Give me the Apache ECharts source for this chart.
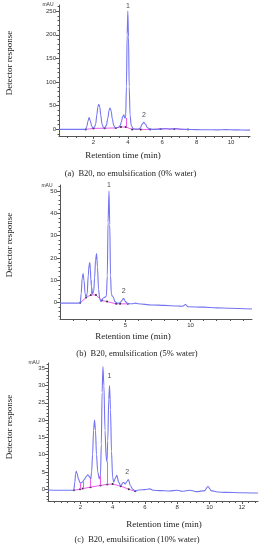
<!DOCTYPE html>
<html><head><meta charset="utf-8">
<script src="https://cdn.jsdelivr.net/npm/echarts@6/dist/echarts.min.js"></script>
<style>html,body{margin:0;padding:0;background:#fff}#c{width:263px;height:550px}</style>
</head><body><div id="c"></div>
<script>
// ---------- Panel (a): B20, no emulsification (0% water) ----------
const timeA = [0,0.5,1.0,1.5,1.55,1.62,1.68,1.75,1.82,1.9,1.97,2.05,2.13,2.2,2.26,2.31,2.37,2.43,2.5,2.58,2.65,2.75,2.84,2.91,2.97,3.03,3.1,3.18,3.28,3.38,3.47,3.55,3.63,3.7,3.77,3.82,3.87,3.92,3.96,4.0,4.04,4.08,4.13,4.2,4.3,4.45,4.6,4.72,4.83,4.93,5.03,5.13,5.25,5.45,5.7,5.9,6.05,6.2,6.4,6.6,6.8,7.0,7.4,8.0,8.6,9.2,9.7,10.2,10.6,11.1];
const respA = [0,0,0,0,0.5,6,17,25,18,7,2.5,4,11,31,48,53,47,30,11,4,3,8,24,41,45,39,22,8,3.5,3.5,5,8,16,27,31,24,24,90,200,250,195,90,30,8,2,0.5,0.5,3,11,15,11,4,1,0,0,1,1,2,0.5,1,2,0.5,0,-0.5,-0.8,-1,-0.6,-1.1,-1.2,-1.5];
const baseTA = [1.55,2.0,2.65,3.3,3.6,3.88,4.25,4.75,5.3,5.9,6.7,7.5];
const baseVA = [0,2,2.5,3,5,5,0,0,-0.3,1,1,-0.5];
const dropTA = [3.88];
const dropLowA = [5];
const dropTopA = [24];
const peakNameA = ['1','2'];
const peakTA = [4.0,4.93];
const peakVA = [251,21];
const xLabelsA = [2,4,6,8,10];
const yLabelsA = [0,50,100,150,200,250];

// ---------- Panel (b): B20, emulsification (5% water) ----------
const timeB = [0,0.5,1.0,1.5,1.55,1.62,1.7,1.77,1.84,1.92,2.0,2.08,2.16,2.23,2.28,2.33,2.36,2.42,2.5,2.58,2.65,2.72,2.8,2.87,2.95,3.05,3.15,3.3,3.45,3.55,3.62,3.68,3.75,3.81,3.87,3.93,4.0,4.08,4.2,4.4,4.6,4.75,4.87,5.0,5.2,5.5,5.8,6.0,7.0,8.0,9.0,9.4,9.6,9.8,11.0,12.0,13.0,14.7];
const respB = [-0.2,-0.2,-0.2,-0.2,0,4,11,13,10,4,2.5,4,12,17,18,15,10,7,4,5,11,19,22,16,6,1.5,0.5,2,2.5,3,12,36,50,35,12,4,3,2.5,0.5,-0.3,0,1,2,0.5,-0.5,-0.5,-0.2,-0.5,-1,-1.2,-1.5,-1.6,-0.8,-1.8,-2,-2.3,-2.5,-2.8];
const baseTB = [1.55,2.0,2.36,2.75,3.2,3.6,4.3,4.6,5.2];
const baseVB = [0,2.3,3.5,3.5,1,0.5,-0.5,-0.5,-0.5];
const dropTB = [2.36];
const dropLowB = [3.5];
const dropTopB = [10];
const peakNameB = ['1','2'];
const peakTB = [3.75,4.87];
const peakVB = [50.5,3];
const xLabelsB = [5,10];
const yLabelsB = [0,10,20,30,40,50];

// ---------- Panel (c): B20, emulsification (10% water) ----------
const timeC = [0,1.0,1.55,1.6,1.66,1.71,1.75,1.8,1.88,1.99,2.1,2.16,2.25,2.35,2.47,2.58,2.65,2.7,2.76,2.82,2.88,2.94,3.0,3.08,3.18,3.25,3.3,3.35,3.4,3.46,3.53,3.6,3.65,3.7,3.76,3.81,3.87,3.93,4.0,4.07,4.15,4.26,4.38,4.5,4.67,4.78,4.88,4.98,5.1,5.25,5.4,5.6,6.0,6.3,6.5,7.0,7.5,8.0,8.3,8.8,9.2,9.7,9.9,10.1,10.5,11.0,12.0,13.0];
const respC = [-0.2,-0.3,-0.3,-0.2,2,4.5,5.2,4.6,3,1.8,2,2.2,2.8,3.6,4.2,3.5,3,5,10,17,20,17,10,5,3,4,13,28,35.5,30,17,9,8,14,26,30,23,11,3.5,2,3,4,2,1,2,1.5,2.2,2.8,1,0,-0.5,-0.2,-0.1,0.1,-0.3,-0.4,-0.5,-0.3,-0.6,-0.3,-0.7,-0.4,0.8,-0.4,-0.8,-0.9,-1.0,-1.1];
const baseTC = [1.6,1.99,2.16,2.63,3.25,3.67,4.0,4.5,5.0,5.4];
const baseVC = [-0.3,0.0,0.2,0.6,1.1,1.4,1.5,0.9,0.0,-0.6];
const dropTC = [1.99,2.16,2.63,3.25,3.67];
const dropLowC = [0.0,0.2,0.6,1.1,1.4];
const dropTopC = [1.8,2.2,3.0,4.0,8];
const peakNameC = ['1','2'];
const peakTC = [3.81,4.9];
const peakVC = [31.5,3.6];
const xLabelsC = [2,4,6,8,10,12];
const yLabelsC = [0,5,10,15,20,25,30,35];

const TRACE = '#7575f2', PINK = '#ee5cee', AXIS = '#555', TXT = '#333';
const SERIF = '"Liberation Serif","DejaVu Serif",serif';
const SANS = '"Liberation Sans",Arial,sans-serif';

function range(a, b, s){ const r=[]; for(let v=a; v<=b+1e-9; v+=s) r.push(Math.round(v*1000)/1000); return r; }

const panels = [
  {grid:{left:59,top:5,width:191,height:131}, xmin:0,xmax:11.1, ymin:-14,ymax:263,
   xl:xLabelsA, xt:range(0.5,11,0.5), yl:yLabelsA, yt:range(-10,260,10),
   t:timeA, v:respA, bt:baseTA, bv:baseVA, dt:dropTA, dl:dropLowA, dh:dropTopA, pn:peakNameA, pt:peakTA, pv:peakVA},
  {grid:{left:60,top:185,width:192,height:134}, xmin:0,xmax:14.7, ymin:-7.3,ymax:52.7,
   xl:xLabelsB, xt:range(1,14,1), yl:yLabelsB, yt:range(-6,52,2),
   t:timeB, v:respB, bt:baseTB, bv:baseVB, dt:dropTB, dl:dropLowB, dh:dropTopB, pn:peakNameB, pt:peakTB, pv:peakVB},
  {grid:{left:48,top:363,width:210,height:138}, xmin:0,xmax:13.0, ymin:-3.4,ymax:36.5,
   xl:xLabelsC, xt:range(0.4,12.8,0.4), yl:yLabelsC, yt:range(-3,36,1),
   t:timeC, v:respC, bt:baseTC, bv:baseVC, dt:dropTC, dl:dropLowC, dh:dropTopC, pn:peakNameC, pt:peakTC, pv:peakVC}
];

const grid=[], xAxis=[], yAxis=[], series=[];
panels.forEach((p,i)=>{
  grid.push(p.grid);
  xAxis.push({type:'value', gridIndex:i, position:'bottom', min:p.xmin, max:p.xmax,
    axisLine:{show:true,onZero:false,lineStyle:{color:AXIS,width:1}},
    axisTick:{show:true,length:3,customValues:p.xl,lineStyle:{color:AXIS}},
    axisLabel:{show:true,customValues:p.xl,fontSize:6,color:TXT,margin:3,fontFamily:SANS},
    splitLine:{show:false}});
  xAxis.push({type:'value', gridIndex:i, position:'bottom', offset:0, min:p.xmin, max:p.xmax,
    axisLine:{show:false,onZero:false},
    axisTick:{show:true,length:2,customValues:p.xt,lineStyle:{color:AXIS}},
    axisLabel:{show:false}, splitLine:{show:false}});
  yAxis.push({type:'value', gridIndex:i, position:'left', min:p.ymin, max:p.ymax,
    axisLine:{show:true,onZero:false,lineStyle:{color:AXIS,width:1}},
    axisTick:{show:true,length:3,customValues:p.yl,lineStyle:{color:AXIS}},
    axisLabel:{show:true,customValues:p.yl,fontSize:6,color:TXT,margin:3,fontFamily:SANS},
    splitLine:{show:false}});
  yAxis.push({type:'value', gridIndex:i, position:'left', offset:0, min:p.ymin, max:p.ymax,
    axisLine:{show:false,onZero:false},
    axisTick:{show:true,length:1.5,customValues:p.yt,lineStyle:{color:AXIS}},
    axisLabel:{show:false}, splitLine:{show:false}});
  series.push({type:'line', xAxisIndex:2*i, yAxisIndex:2*i, showSymbol:false, smooth:0.3, smoothMonotone:'x',
    lineStyle:{color:TRACE,width:1.1}, itemStyle:{color:TRACE}, silent:true, z:3,
    data:p.t.map((t,k)=>[t,p.v[k]])});
  series.push({type:'line', xAxisIndex:2*i, yAxisIndex:2*i, showSymbol:true, showAllSymbol:true, symbol:'circle', symbolSize:2,
    lineStyle:{color:PINK,width:1}, itemStyle:{color:'#333'}, silent:true, z:2,
    data:p.bt.map((t,k)=>[t,p.bv[k]]),
    markLine:{silent:true, symbol:'none', label:{show:false}, animation:false,
      lineStyle:{color:PINK,type:'solid',width:1},
      data:p.dt.map((t,k)=>[{coord:[t,p.dl[k]]},{coord:[t,p.dh[k]]}])}});
  series.push({type:'scatter', xAxisIndex:2*i, yAxisIndex:2*i, symbolSize:0, silent:true,
    label:{show:true, position:'top', distance:1, formatter:'{b}', fontSize:7, color:'#222', fontFamily:SANS},
    data:p.pn.map((n,k)=>({name:n, value:[p.pt[k],p.pv[k]]}))});
});

function txt(x,y,text,font,rot,color){
  return {type:'text', x:x, y:y, rotation:rot||0, silent:true,
    style:{text:text, font:font, fill:color||'#222', align:'center', verticalAlign:'middle', textAlign:'center', textVerticalAlign:'middle'}};
}
const graphic = [
  txt(48,5,'mAU','5px '+SANS,0,TXT),
  txt(47,185.5,'mAU','5px '+SANS,0,TXT),
  txt(34,362.5,'mAU','5px '+SANS,0,TXT),
  txt(10,63,'Detector response','9px '+SERIF,Math.PI/2),
  txt(10,245,'Detector response','9px '+SERIF,Math.PI/2),
  txt(9.5,427,'Detector response','9px '+SERIF,Math.PI/2),
  txt(123,156,'Retention time (min)','9px '+SERIF),
  txt(133,337,'Retention time (min)','9px '+SERIF),
  txt(164,524.5,'Retention time (min)','9px '+SERIF),
  txt(130.5,174,'(a)  B20, no emulsification (0% water)','8.5px '+SERIF),
  txt(137,354,'(b)  B20, emulsification (5% water)','8.5px '+SERIF),
  txt(137,539.5,'(c)  B20, emulsification (10% water)','8.5px '+SERIF)
];

const chart = echarts.init(document.getElementById('c'), null, {renderer:'canvas'});
chart.setOption({animation:false, backgroundColor:'#fff', grid, xAxis, yAxis, series, graphic});
</script></body></html>
